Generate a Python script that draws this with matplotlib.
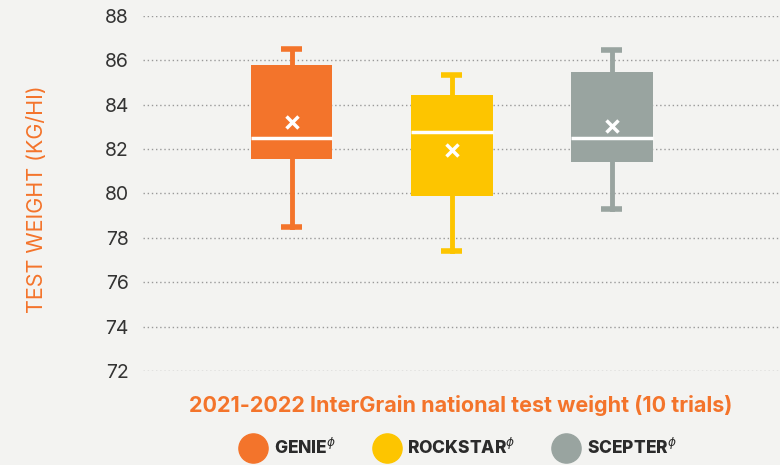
import matplotlib
matplotlib.use("Agg")
import matplotlib.pyplot as plt
from matplotlib.lines import Line2D

# values
varieties = ["GENIE", "ROCKSTAR", "SCEPTER"]
whisker_low = [78.5, 77.4, 79.3]
q1 = [81.55, 79.9, 81.4]
median = [82.5, 82.75, 82.5]
q3 = [85.8, 84.45, 85.45]
whisker_high = [86.5, 85.35, 86.45]
mean = [83.2, 81.95, 83.05]
yticks = [72, 74, 76, 78, 80, 82, 84, 86, 88]

colors = ["#f3742b", "#fdc500", "#99a4a0"]
bg = "#f3f3f1"
orange = "#f3742b"

plt.rcParams['font.family'] = ['Inter', 'DejaVu Sans']

fig = plt.figure(figsize=(7.8, 4.65), dpi=100, facecolor=bg)
ax = fig.add_axes([0.183, 0.202, 0.817, 0.764], facecolor=bg)

stats = []
for i, name in enumerate(varieties):
    stats.append(dict(label=name, whislo=whisker_low[i], q1=q1[i], med=median[i],
                      q3=q3[i], whishi=whisker_high[i], mean=mean[i], fliers=[]))

positions = list(range(len(varieties)))
bp = ax.bxp(stats, positions=positions, widths=0.51, capwidths=0.13,
            showmeans=True, patch_artist=True, showfliers=False,
            medianprops=dict(color="white", linewidth=2.5),
            meanprops=dict(marker="x", markeredgecolor="white", markersize=8,
                           markeredgewidth=2.5))
for i, c in enumerate(colors):
    bp["boxes"][i].set_facecolor(c)
    bp["boxes"][i].set_edgecolor(c)
    bp["boxes"][i].set_linewidth(0)
    for w in bp["whiskers"][2 * i:2 * i + 2]:
        w.set_color(c)
        w.set_linewidth(3.5)
    for cp in bp["caps"][2 * i:2 * i + 2]:
        cp.set_color(c)
        cp.set_linewidth(4)
        cp.set_solid_capstyle("butt")
for b in bp["boxes"]:
    b.set_zorder(3)
for m in bp["medians"] + bp["means"]:
    m.set_zorder(4)

ax.set_xlim(-0.93, 3.05)
ax.set_ylim(72, 88)
ax.set_yticks(yticks)
ax.set_xticks([])
ax.tick_params(axis="y", length=0, labelsize=14, labelcolor="#333333", pad=10)
ax.yaxis.grid(True, linestyle=(0, (1, 2)), color="#999999", linewidth=1)
ax.set_axisbelow(True)
for s in ax.spines.values():
    s.set_visible(False)

fig.text(0.047, 0.572, "TEST WEIGHT (KG/HI)", rotation=90, color=orange,
         fontsize=15.5, ha="center", va="center")

fig.text(0.591, 0.129, "2021-2022 InterGrain national test weight (10 trials)",
         color=orange, fontsize=15.5, fontweight="bold", ha="center", va="center")

handles = [Line2D([], [], linestyle="none", marker="o", markersize=21,
                  markerfacecolor=c, markeredgecolor=c) for c in colors]
labels = [v + r"$^{\phi}$" for v in varieties]
leg = fig.legend(handles, labels, loc="center", bbox_to_anchor=(0.585, 0.038),
                 ncol=3, frameon=False, handletextpad=0.2, columnspacing=1.9,
                 prop=dict(weight="heavy", size=12.5))
for t in leg.get_texts():
    t.set_color("#2b2b2b")

fig.savefig("out.png", dpi=100, facecolor=bg)
